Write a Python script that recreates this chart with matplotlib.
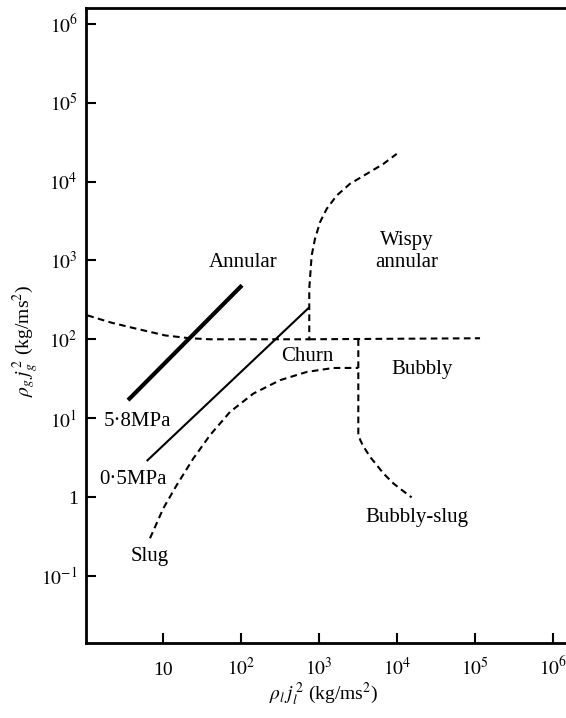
import matplotlib
matplotlib.use('Agg')
import matplotlib.pyplot as plt

plt.rcParams['font.family'] = ['Liberation Serif', 'DejaVu Serif']
plt.rcParams['mathtext.fontset'] = 'stix'

# Regime boundaries (rho_l jl^2, rho_g jg^2)
annular_x = [1.07, 2.1, 3.8, 10.6, 22, 40, 750, 750, 805, 889, 1031, 1256, 1687, 2495, 4090, 6670, 9910]
annular_y = [201, 164, 142, 112, 103, 100, 100, 438, 1157, 1884, 3055, 4508, 6650, 9350, 12500, 16700, 22400]

wispy_x = [750, 116000]
wispy_y = [100, 103]

bubbly_x = [3190, 3190, 3400, 3700, 4510, 5500, 6670, 8970, 11500, 15400]
bubbly_y = [100, 6.2, 5.2, 4.4, 3.24, 2.54, 2.0, 1.49, 1.23, 0.99]

slug_x = [6.81, 10.1, 15.0, 24.5, 40.1, 72.3, 144, 316, 695, 1524, 3190]
slug_y = [0.300, 0.72, 1.42, 3.09, 6.1, 12.0, 20.5, 30.3, 38.5, 43.3, 43.3]

# Operating lines at two pressures
p58_x = [3.56, 103]
p58_y = [16.9, 483]
p05_x = [6.18, 750]
p05_y = [2.86, 254]

labels = ['Annular', 'Wispy\nannular', 'Churn', 'Bubbly', '5·8MPa', '0·5MPa', 'Slug', 'Bubbly-slug']
label_x = [106, 13400, 702, 20900, 4.64, 4.12, 6.8, 18000]
label_y = [945, 1300, 61, 41.7, 9.2, 1.69, 0.174, 0.558]

xticks = [10, 1e2, 1e3, 1e4, 1e5, 1e6]
xticklabels = ['10', '$10^2$', '$10^3$', '$10^4$', '$10^5$', '$10^6$']
yticks = [1e-1, 1, 10, 1e2, 1e3, 1e4, 1e5, 1e6]
yticklabels = ['$10^{-1}$', '1', '$10^1$', '$10^2$', '$10^3$', '$10^4$', '$10^5$', '$10^6$']

fig = plt.figure(figsize=(5.66, 7.18), dpi=100)
ax = fig.add_axes([0.152, 0.1045, 0.8595, 0.8844])
ax.set_xscale('log')
ax.set_yscale('log')
ax.set_xlim(10 ** 0.013, 10 ** 6.25)
ax.set_ylim(10 ** -1.85, 10 ** 6.2)

dash = dict(color='black', lw=1.5, dashes=(3.2, 2.1))
ax.plot(annular_x, annular_y, **dash)
ax.plot(wispy_x, wispy_y, **dash)
ax.plot(bubbly_x, bubbly_y, **dash)
ax.plot(slug_x, slug_y, **dash)

ax.plot(p58_x, p58_y, color='black', lw=3.0, solid_capstyle='butt')
ax.plot(p05_x, p05_y, color='black', lw=1.5, solid_capstyle='butt')

for t, x, y in zip(labels, label_x, label_y):
    ax.text(x, y, t, fontsize=15, ha='center', va='center', linespacing=1.25)

ax.set_xticks(xticks)
ax.set_xticklabels(xticklabels)
ax.set_yticks(yticks)
ax.set_yticklabels(yticklabels)
ax.minorticks_off()
ax.tick_params(direction='in', length=7, width=1.5, labelsize=14)
ax.tick_params(axis='x', pad=23)
ax.tick_params(axis='y', pad=6)
# keep the x tick digits on one baseline
for lab in ax.get_xticklabels():
    lab.set_verticalalignment('baseline')

for side in ['left', 'bottom', 'top']:
    ax.spines[side].set_linewidth(2)
ax.spines['right'].set_visible(False)

fig.text(0.572, 0.034, r'$\rho_l\, j_l^{\,2}$ (kg/ms$^2$)', fontsize=14, ha='center', va='center')
fig.text(0.046, 0.525, r'$\rho_g\, j_g^{\,2}$ (kg/ms$^2$)', fontsize=14, ha='center', va='center',
         rotation=90)

fig.savefig('out.png', dpi=100)
